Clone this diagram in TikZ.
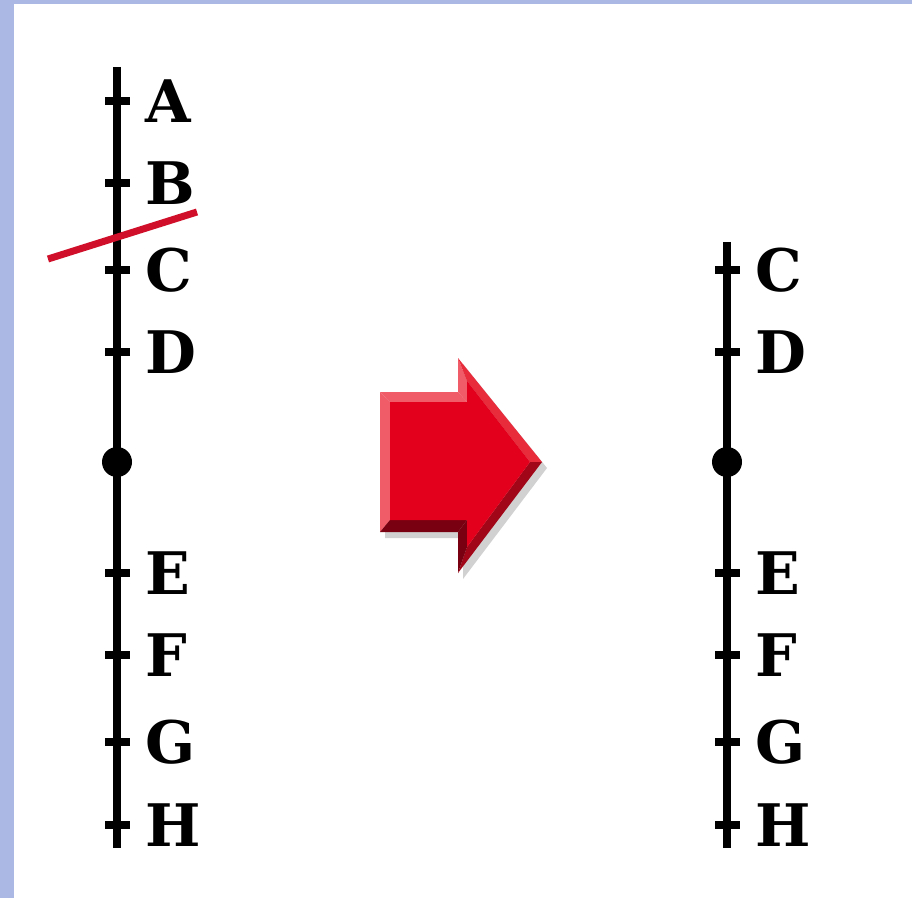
\documentclass[tikz,border=0pt]{standalone}
\usepackage{fontspec}
\usetikzlibrary{calc}
\newfontfamily\lblfont{DejaVu Serif}
\definecolor{framecol}{RGB}{172,184,228}
\definecolor{cutred}{RGB}{208,16,42}
\definecolor{arrface}{RGB}{226,0,28}
\definecolor{arrlight}{RGB}{240,92,104}
\definecolor{arrmid}{RGB}{232,44,60}
\definecolor{arrdark}{RGB}{120,0,16}
\definecolor{arrshade}{RGB}{160,6,24}
\begin{document}
\begin{tikzpicture}[x=0.75pt,y=-0.75pt,
  axis/.style={line width=6pt,black},
  tickmark/.style={rectangle,fill=black,inner sep=0pt,minimum width=18.75pt,minimum height=6pt},
  midpoint/.style={circle,fill=black,inner sep=0pt,minimum size=22.5pt},
  lbl/.style={font=\lblfont\bfseries\fontsize{44}{44}\selectfont,anchor=west,inner sep=0pt},
  cut/.style={line width=5.25pt,cutred}]
% canvas and frame strips
\fill[white] (0,0) rectangle (912,898);
\fill[framecol] (0,0) rectangle (14,898);
\fill[framecol] (0,0) rectangle (912,4);
\useasboundingbox (0,0) rectangle (912,898);

% left scale, A to H
\coordinate (Ltop) at (117,67);
\coordinate (Lbot) at (117,848);
\draw[axis] (Ltop) -- (Lbot);
\foreach \n/\y in {A/101,B/183,C/270,D/352,E/573,F/655,G/742,H/825}{
  \node[tickmark] (tL\n) at (117,\y) {};
  \node[lbl] (lL\n) at (145,\y) {\n};
}
\node[midpoint] (Lmid) at (117,462) {};

% cut between B and C
\coordinate (cutA) at (48,259);
\coordinate (cutB) at (197,212);
\draw[cut] (cutA) -- (cutB);

% right scale, C to H
\coordinate (Rtop) at (727,242);
\coordinate (Rbot) at (727,848);
\draw[axis] (Rtop) -- (Rbot);
\foreach \n/\y in {C/270,D/352,E/573,F/655,G/742,H/825}{
  \node[tickmark] (tR\n) at (727,\y) {};
  \node[lbl] (lR\n) at (755,\y) {\n};
}
\node[midpoint] (Rmid) at (727,462) {};

% bevelled block arrow
\coordinate (P1) at (380,392);
\coordinate (P2) at (458,392);
\coordinate (P3) at (458,358);
\coordinate (P4) at (542,462);
\coordinate (P5) at (458,573);
\coordinate (P6) at (458,532);
\coordinate (P7) at (380,532);
\coordinate (Q1) at (390,402);
\coordinate (Q2) at (467,402);
\coordinate (Q3) at (467,381);
\coordinate (Q4) at (530,462);
\coordinate (Q5) at (467,547);
\coordinate (Q6) at (467,520);
\coordinate (Q7) at (390,520);
\fill[black,opacity=0.18] ($(P1)+(5,6)$) -- ($(P2)+(5,6)$) -- ($(P3)+(5,6)$) -- ($(P4)+(5,6)$)
  -- ($(P5)+(5,6)$) -- ($(P6)+(5,6)$) -- ($(P7)+(5,6)$) -- cycle;
\fill[arrlight] (P1) -- (P2) -- (Q2) -- (Q1) -- cycle;
\fill[arrlight] (P1) -- (Q1) -- (Q7) -- (P7) -- cycle;
\fill[arrlight] (P2) -- (P3) -- (Q3) -- (Q2) -- cycle;
\fill[arrmid] (P3) -- (P4) -- (Q4) -- (Q3) -- cycle;
\fill[arrshade] (P4) -- (P5) -- (Q5) -- (Q4) -- cycle;
\fill[arrdark] (P5) -- (P6) -- (Q6) -- (Q5) -- cycle;
\fill[arrdark] (P6) -- (P7) -- (Q7) -- (Q6) -- cycle;
\fill[arrface] (Q1) -- (Q2) -- (Q3) -- (Q4) -- (Q5) -- (Q6) -- (Q7) -- cycle;
\end{tikzpicture}
\end{document}
